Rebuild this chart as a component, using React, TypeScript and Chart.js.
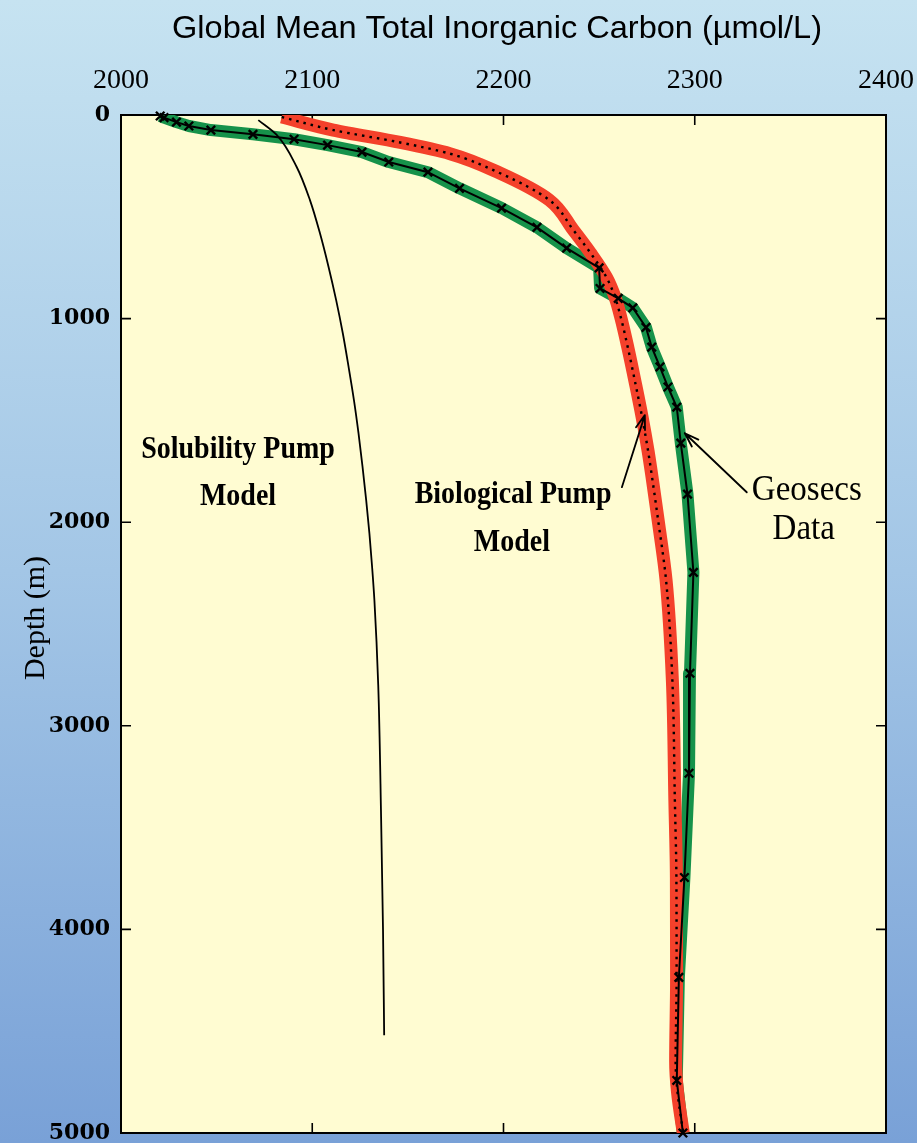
import React, { useEffect, useRef } from 'react';
import { Chart, registerables } from 'chart.js';

Chart.register(...registerables);

// ---------- data ----------
const xTickValues = [2000, 2100, 2200, 2300, 2400];
const yTickValues = [0, 1000, 2000, 3000, 4000, 5000];

// Geosecs data (depth m, DIC umol/L)
const geosecsDepth = [5, 13, 35, 54, 74, 95, 119, 148, 182, 231, 281, 360, 457, 552, 654, 751, 852, 901, 947, 1043, 1140, 1237, 1336, 1435, 1612, 1862, 2246, 2742, 3233, 3745, 4236, 4742, 5000];
const geosecsDIC = [2020.5, 2022.5, 2029, 2035.5, 2047, 2069, 2090.5, 2108, 2126, 2140, 2160.5, 2177, 2199, 2217.5, 2233, 2250, 2250.5, 2260, 2267.6, 2274.5, 2277.5, 2281.8, 2286, 2290.6, 2292.7, 2296.2, 2299.3, 2297.5, 2297, 2294.6, 2291.7, 2290.6, 2293.8];

// Biological pump model
const bioDepth = [10, 74, 135, 190, 285, 418, 565, 678, 800, 900, 1000, 1150, 1320, 1480, 1650, 1800, 2000, 2285, 2776, 3366, 3745, 4236, 4650, 4800, 5000];
const bioDIC = [2084, 2111, 2146, 2172, 2198, 2224, 2236.5, 2245.5, 2254, 2258.5, 2261.5, 2265.2, 2269, 2272.4, 2275.6, 2278, 2281, 2285, 2288.3, 2289.6, 2290.4, 2290.5, 2290, 2291, 2294];

// Solubility pump model
const solDepth = [25, 98, 254, 418, 580, 745, 909, 1073, 1237, 1400, 1564, 1728, 1892, 2056, 2220, 2383, 2800, 3450, 4000, 4520];
const solDIC = [2071.8, 2081.4, 2091.8, 2098.8, 2104, 2108.5, 2112.5, 2116, 2119, 2121.8, 2124.2, 2126.3, 2128.2, 2129.9, 2131.3, 2132.5, 2134.5, 2136, 2137, 2137.6];

const titleText = 'Global Mean Total Inorganic Carbon (\u00b5mol/L)';
const yTitleText = 'Depth (m)';

const annoTexts = [
  { text: 'Solubility Pump', x: 2061.2, y: 1646, bold: true, size: 28 },
  { text: 'Model', x: 2061.2, y: 1877, bold: true, size: 28 },
  { text: 'Biological Pump', x: 2205, y: 1867, bold: true, size: 28 },
  { text: 'Model', x: 2204.4, y: 2103, bold: true, size: 28 },
  { text: 'Geosecs', x: 2358.6, y: 1845, bold: false, size: 33 },
  { text: 'Data', x: 2357, y: 2035, bold: false, size: 33 },
];

const arrowFromX = [2261.9, 2327.2];
const arrowFromY = [1828, 1853];
const arrowToX = [2273.9, 2294.8];
const arrowToY = [1474, 1563];

const zip = (xs: number[], ys: number[]) => xs.map((x, i) => ({ x, y: ys[i] }));

const decorPlugin = {
  id: 'decor',
  beforeDraw(chart: any) {
    const { ctx, width, height, chartArea: a } = chart;
    ctx.save();
    const g = ctx.createLinearGradient(0, 0, 0, height);
    g.addColorStop(0, '#c6e3f1');
    g.addColorStop(0.5, '#a3c6e6');
    g.addColorStop(1, '#79a1d7');
    ctx.fillStyle = g;
    ctx.fillRect(0, 0, width, height);
    ctx.fillStyle = '#fffcd2';
    ctx.fillRect(a.left, a.top, a.right - a.left, a.bottom - a.top);
    ctx.restore();
  },
  beforeDatasetsDraw(chart: any) {
    const { ctx, chartArea: a, scales } = chart;
    ctx.save();
    ctx.strokeStyle = '#000';
    ctx.lineWidth = 2;
    ctx.strokeRect(a.left, a.top, a.right - a.left, a.bottom - a.top);
    ctx.lineWidth = 1.6;
    const tl = 10;
    ctx.beginPath();
    xTickValues.forEach((v) => {
      const px = scales.x.getPixelForValue(v);
      ctx.moveTo(px, a.top); ctx.lineTo(px, a.top + tl);
      ctx.moveTo(px, a.bottom); ctx.lineTo(px, a.bottom - tl);
    });
    yTickValues.forEach((v) => {
      const py = scales.y.getPixelForValue(v);
      ctx.moveTo(a.left, py); ctx.lineTo(a.left + tl, py);
      ctx.moveTo(a.right, py); ctx.lineTo(a.right - tl, py);
    });
    ctx.stroke();
    ctx.restore();
  },
  afterDraw(chart: any) {
    const { ctx, scales } = chart;
    const sx = scales.x, sy = scales.y;
    ctx.save();
    ctx.fillStyle = '#000';
    ctx.strokeStyle = '#000';
    ctx.textBaseline = 'middle';
    ctx.textAlign = 'center';

    // title
    ctx.save();
    ctx.font = '28px "Liberation Sans", Arial, sans-serif';
    const tw = ctx.measureText(titleText).width;
    ctx.translate(497, 29);
    ctx.scale(650 / tw, 1.12);
    ctx.fillText(titleText, 0, 0);
    ctx.restore();

    // y title
    ctx.save();
    ctx.font = '30px "Liberation Serif", "Times New Roman", serif';
    ctx.translate(36, 618);
    ctx.rotate(-Math.PI / 2);
    ctx.fillText(yTitleText, 0, 0);
    ctx.restore();

    // annotation texts
    annoTexts.forEach((t) => {
      ctx.save();
      ctx.font = `${t.bold ? 'bold ' : ''}${t.size}px "Liberation Serif", "Times New Roman", serif`;
      ctx.translate(sx.getPixelForValue(t.x), sy.getPixelForValue(t.y));
      ctx.scale(1, 1.1);
      ctx.fillText(t.text, 0, 0);
      ctx.restore();
    });

    // arrows
    ctx.lineWidth = 1.8;
    ctx.lineCap = 'round';
    arrowFromX.forEach((_, i) => {
      const x0 = sx.getPixelForValue(arrowFromX[i]);
      const y0 = sy.getPixelForValue(arrowFromY[i]);
      const x1 = sx.getPixelForValue(arrowToX[i]);
      const y1 = sy.getPixelForValue(arrowToY[i]);
      ctx.beginPath();
      ctx.moveTo(x0, y0);
      ctx.lineTo(x1, y1);
      const ang = Math.atan2(y1 - y0, x1 - x0);
      const hl = 15, ha = 0.32;
      ctx.moveTo(x1, y1);
      ctx.lineTo(x1 - hl * Math.cos(ang - ha), y1 - hl * Math.sin(ang - ha));
      ctx.moveTo(x1, y1);
      ctx.lineTo(x1 - hl * Math.cos(ang + ha), y1 - hl * Math.sin(ang + ha));
      ctx.stroke();
    });
    ctx.restore();
  },
};

export default function App() {
  const canvasRef = useRef<HTMLCanvasElement | null>(null);

  useEffect(() => {
    if (!canvasRef.current) return;
    const geo = zip(geosecsDIC, geosecsDepth);
    const bio = zip(bioDIC, bioDepth);
    const sol = zip(solDIC, solDepth);
    const chart = new Chart(canvasRef.current, {
      type: 'line',
      data: {
        datasets: [
          {
            label: 'Geosecs Data',
            data: geo,
            borderColor: '#000',
            borderWidth: 2,
            pointStyle: 'crossRot',
            pointRadius: 6,
            pointBorderWidth: 2.4,
            pointBorderColor: '#000',
            pointBackgroundColor: '#000',
            tension: 0,
            order: 0,
            clip: false,
          },
          {
            label: 'Solubility Pump Model',
            data: sol,
            indexAxis: 'y',
            borderColor: '#000',
            borderWidth: 1.8,
            pointRadius: 0,
            cubicInterpolationMode: 'monotone',
            order: 1,
          },
          {
            label: 'Biological Pump Model (dotted)',
            data: bio,
            indexAxis: 'y',
            borderColor: '#000',
            borderWidth: 2.4,
            borderDash: [2.5, 5],
            pointRadius: 0,
            cubicInterpolationMode: 'monotone',
            order: 2,
            clip: 0,
          },
          {
            label: 'Biological Pump Model',
            data: bio,
            indexAxis: 'y',
            borderColor: '#f4412b',
            borderWidth: 13,
            pointRadius: 0,
            cubicInterpolationMode: 'monotone',
            order: 3,
            clip: 0,
          },
          {
            label: 'Geosecs band',
            data: geo,
            borderColor: '#16924a',
            borderWidth: 12,
            borderJoinStyle: 'round',
            pointRadius: 0,
            tension: 0,
            order: 4,
            clip: 0,
          },
        ],
      } as any,
      options: {
        responsive: false,
        animation: false,
        events: [],
        layout: { padding: { left: 0, top: 0, right: 31, bottom: 10 } },
        plugins: {
          legend: { display: false },
          tooltip: { enabled: false },
          title: { display: false },
        },
        scales: {
          x: {
            type: 'linear',
            position: 'top',
            min: 2000,
            max: 2400,
            afterBuildTicks: (s: any) => { s.ticks = xTickValues.map((v) => ({ value: v })); },
            afterFit: (s: any) => { s.height = 115; s.paddingLeft = 0; s.paddingRight = 0; },
            grid: { display: false, drawTicks: false },
            border: { display: false },
            ticks: {
              color: '#000',
              padding: 18,
              maxRotation: 0,
              autoSkip: false,
              callback: (v: any) => String(v),
              font: { family: '"Liberation Serif", "Times New Roman", serif', size: 28 },
            },
          },
          y: {
            type: 'linear',
            reverse: true,
            min: 0,
            max: 5000,
            afterBuildTicks: (s: any) => { s.ticks = yTickValues.map((v) => ({ value: v })); },
            afterFit: (s: any) => { s.width = 121; s.paddingTop = 0; s.paddingBottom = 0; },
            grid: { display: false, drawTicks: false },
            border: { display: false },
            ticks: {
              color: '#000',
              padding: 11,
              autoSkip: false,
              callback: (v: any) => String(v),
              font: { family: '"DejaVu Serif", serif', size: 22, weight: 'bold' },
            },
          },
        },
      } as any,
      plugins: [decorPlugin],
    });
    return () => chart.destroy();
  }, []);

  return (
    <div style={{ position: 'absolute', left: 0, top: 0, width: 917, height: 1143, overflow: 'hidden' }}>
      <canvas ref={canvasRef} width={917} height={1143} style={{ display: 'block' }} />
    </div>
  );
}
